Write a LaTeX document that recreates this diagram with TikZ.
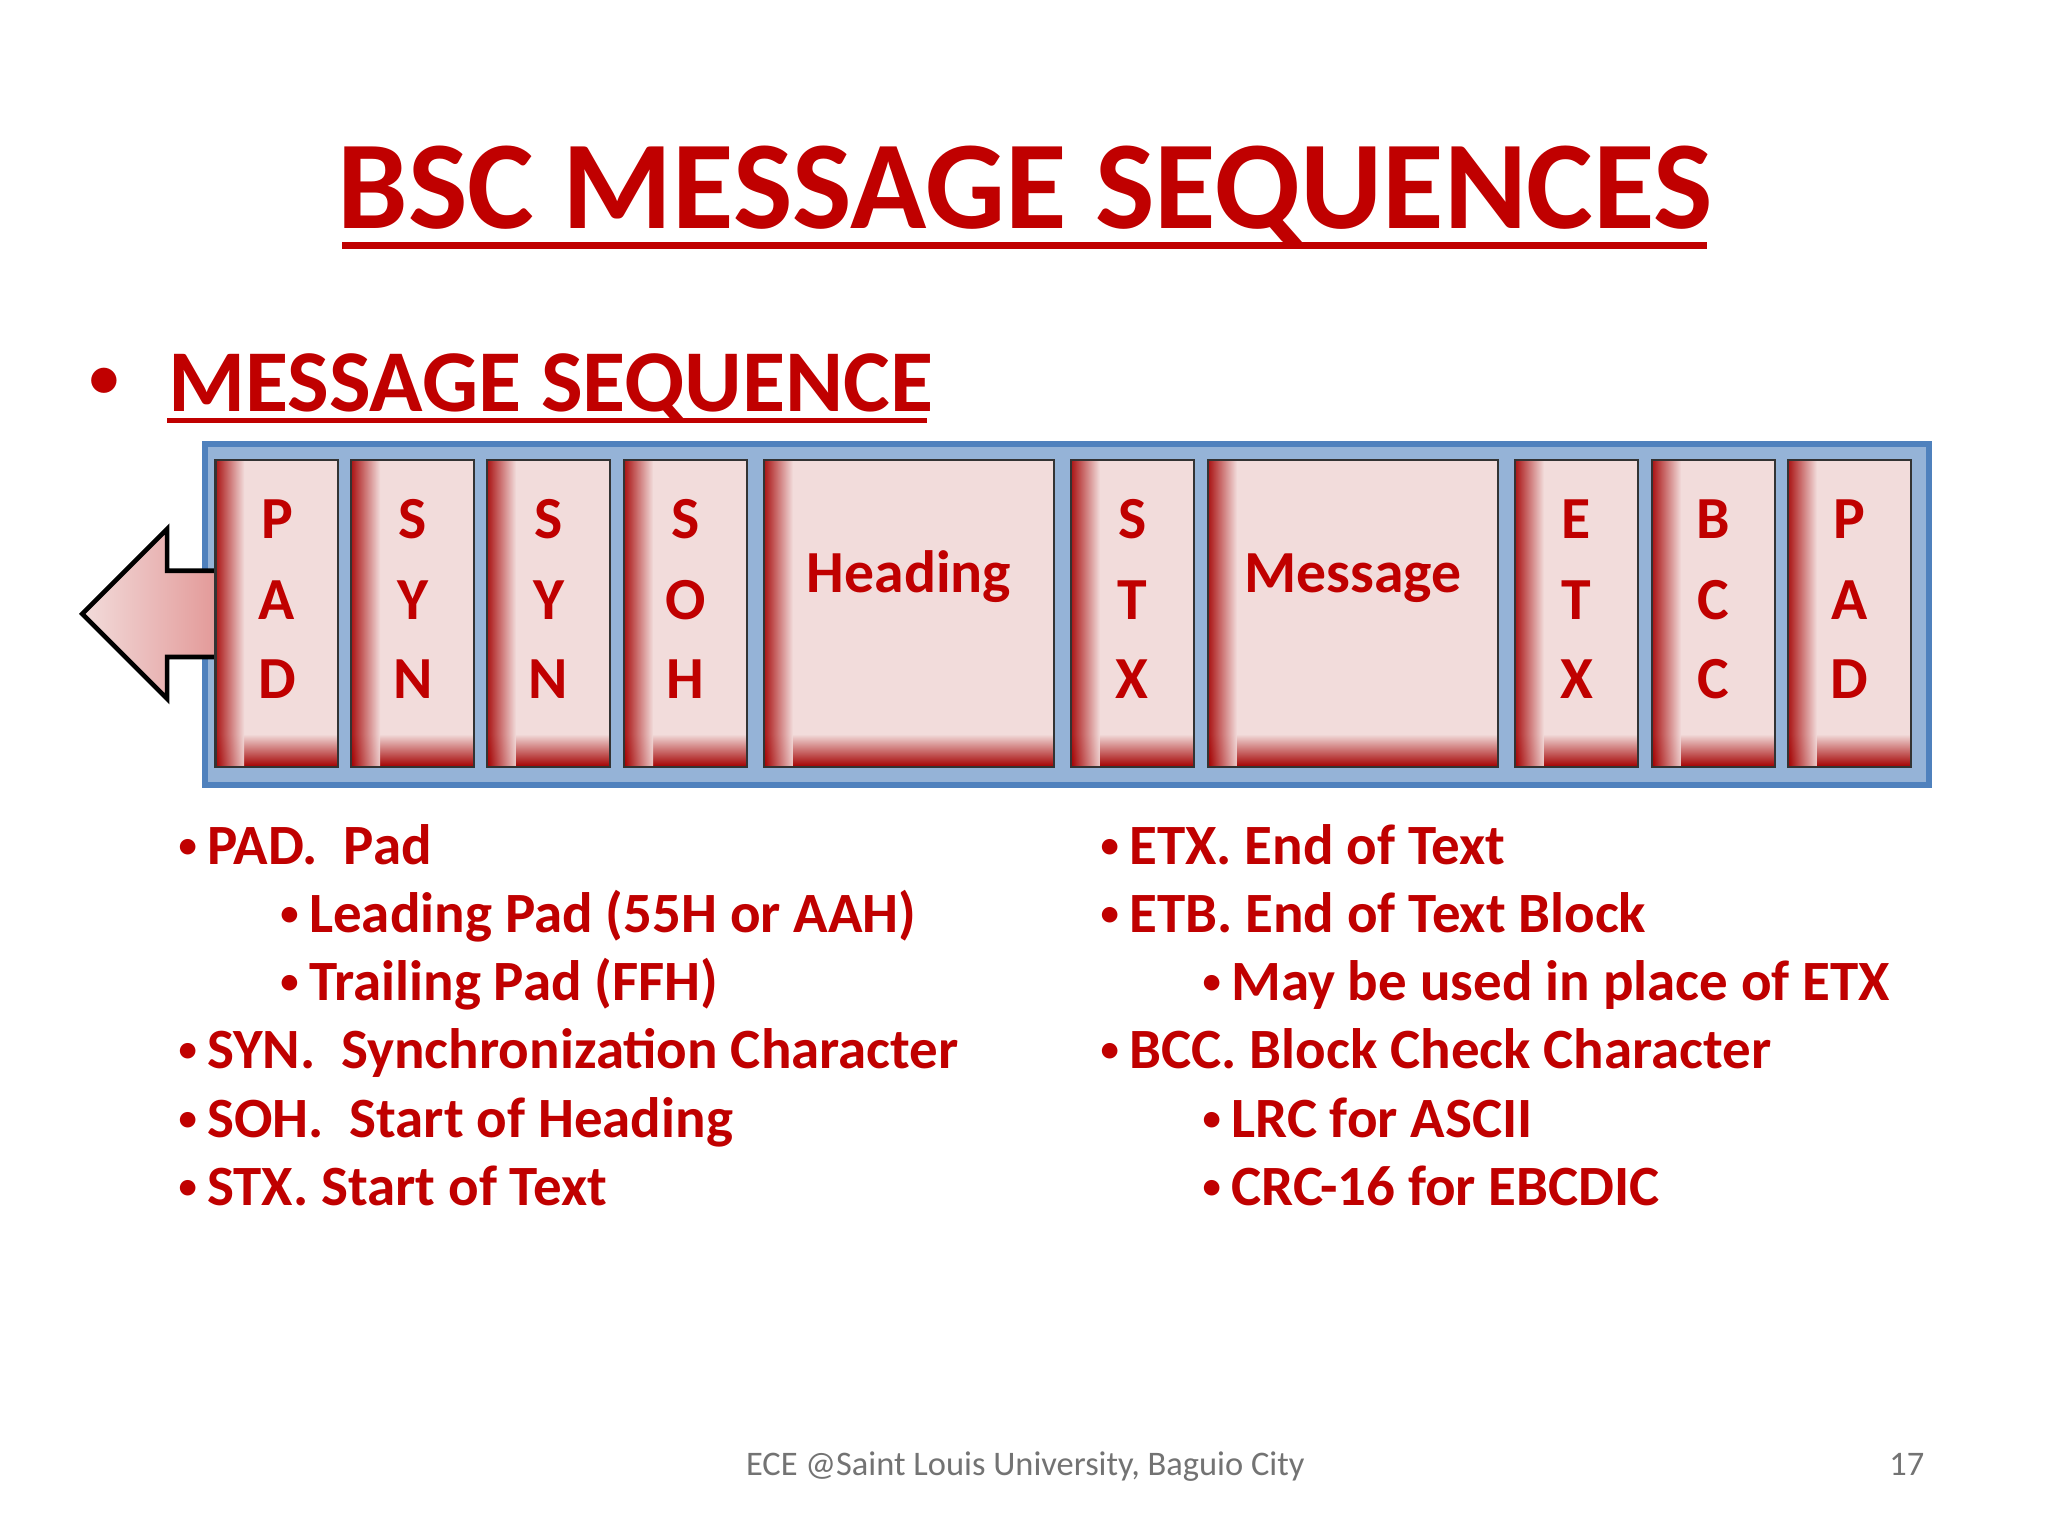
\documentclass[tikz,border=0pt]{standalone}
\usepackage{fontspec}
\setmainfont{Carlito}
\definecolor{dred}{HTML}{C00000}
\definecolor{cpink}{HTML}{F2DCDB}
\definecolor{cframe}{HTML}{95B3D7}
\definecolor{cframeb}{HTML}{4F81BD}
\newcommand{\sbul}{\raisebox{0.12em}{\fontsize{8}{8}\selectfont •}}
\tikzset{
 lbl/.style={text=dred,font=\bfseries\fontsize{13}{13}\selectfont,anchor=base},
 bul/.style={text=dred,font=\bfseries\fontsize{12.4}{13}\selectfont,anchor=base west,inner sep=0pt},
}
\newcommand{\cellbox}[3]{%
 \fill[cpink] (#1,352) rectangle (#2,587);
 \shade[top color=cpink,bottom color=dred!85!black] (#1,562) rectangle (#2,587);
 \shade[left color=dred!85!black,right color=cpink,opacity=0.9] (#1,352) rectangle ({#1+22},587);
 \draw[line width=0.5pt,black!80] (#1,352) rectangle (#2,587);
 \coordinate (#3) at ({(#1+#2)/2},470);
}
\begin{document}
\begin{tikzpicture}[x=0.01cm,y=-0.01cm]
\useasboundingbox[fill=white] (0,0) rectangle (1568,1176);
% title
\node[text=dred,font=\bfseries\fontsize{27.4}{30}\selectfont,anchor=base] (title) at (785,175) {BSC MESSAGE SEQUENCES};
\draw[dred,line width=1.6pt] (262,188) -- (1307,188);
\node[text=dred,font=\bfseries\fontsize{19.2}{22}\selectfont,anchor=base west,inner sep=0pt] (sub) at (128,315) {MESSAGE SEQUENCE};
\node[text=dred,font=\bfseries\fontsize{19.2}{22}\selectfont,anchor=base] (subb) at (80,308) {\raisebox{0.05em}{\fontsize{13}{13}\selectfont •}};
\draw[dred,line width=1.1pt] (128,322) -- (710,322);
% frame
\draw[fill=cframe,draw=cframeb,line width=1.3pt] (157,340) rectangle (1477,601);
% arrow
\shade[left color=cpink,right color=cpink!70!dred,draw=black,line width=1pt] (165,437) -- (128,437) -- (128,405) -- (63,470) -- (128,535) -- (128,503) -- (165,503);
% cells
\cellbox{165}{259}{c1}
\cellbox{269}{363}{c2}
\cellbox{373}{467}{c3}
\cellbox{478}{572}{c4}
\cellbox{585}{807}{c5}
\cellbox{820}{914}{c6}
\cellbox{925}{1147}{c7}
\cellbox{1160}{1254}{c8}
\cellbox{1265}{1359}{c9}
\cellbox{1369}{1463}{c10}
\foreach \n/\x/\a/\b/\c in {p1/212/P/A/D,s1/316/S/Y/N,s2/420/S/Y/N,s3/525/S/O/H,s4/867/S/T/X,e1/1207/E/T/X,b1/1312/B/C/C,p2/1416/P/A/D}{
 \node[lbl] (\n a) at (\x,412) {\a};
 \node[lbl] (\n b) at (\x,474) {\b};
 \node[lbl] (\n c) at (\x,535) {\c};
}
\node[lbl] (hd) at (696,454) {Heading};
\node[lbl] (msg) at (1036,454) {Message};
% bullets
\foreach \t/\bx/\y [count=\i] in {
 {PAD.\ \ Pad}/136/662,
 {Leading Pad (55H or AAH)}/214/714,
 {Trailing Pad (FFH)}/214/766,
 {SYN.\ \ Synchronization Character}/136/818,
 {SOH.\ \ Start of Heading}/136/871,
 {STX. Start of Text}/136/923,
 {ETX. End of Text}/842/662,
 {ETB. End of Text Block}/842/714,
 {May be used in place of ETX}/920/766,
 {BCC. Block Check Character}/842/818,
 {LRC for ASCII}/920/871,
 {CRC-16 for EBCDIC}/920/923}{
 \node[bul] (bt\i) at (\bx,\y) {\makebox[22\dimexpr0.01cm\relax][l]{\sbul}\t};
}
% footer
\node[text=black!55,font=\fontsize{7.5}{9}\selectfont,anchor=base] (foot) at (785,1130) {ECE @Saint Louis University, Baguio City};
\node[text=black!55,font=\fontsize{7.5}{9}\selectfont,anchor=base] (pg) at (1460,1130) {17};
\end{tikzpicture}
\end{document}
